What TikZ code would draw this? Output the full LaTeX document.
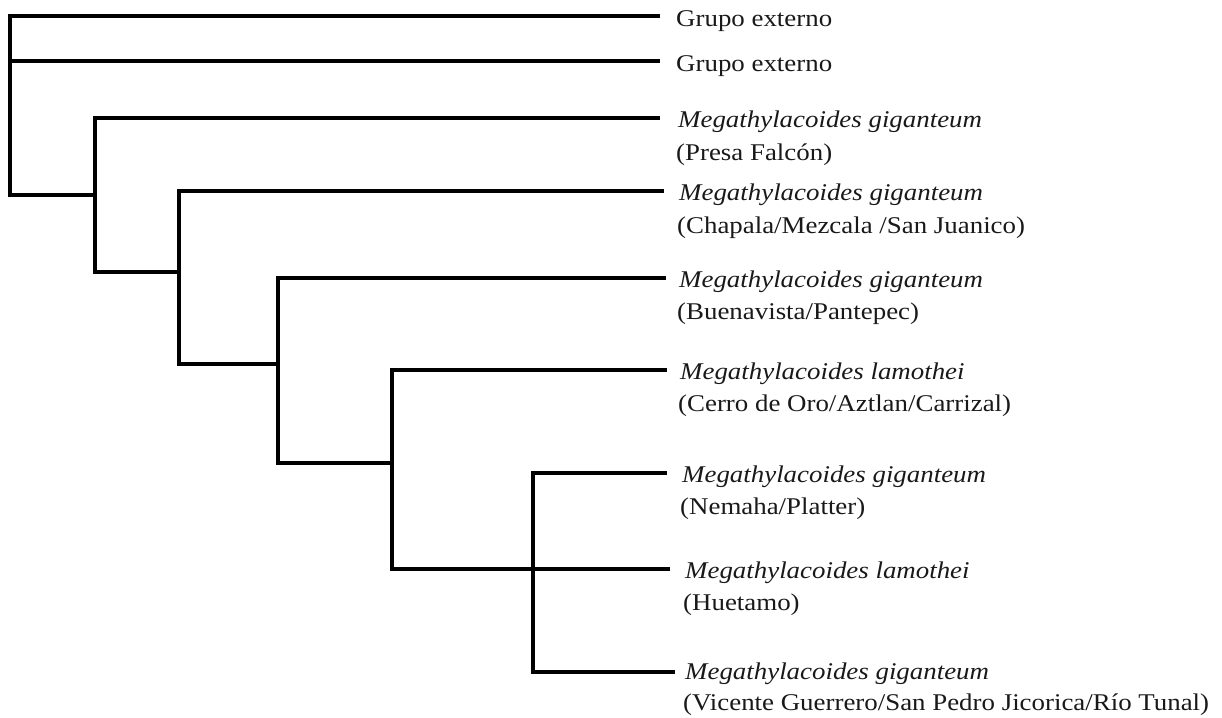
\documentclass[tikz,border=0pt]{standalone}
\usepackage{fontspec}
\setmainfont{Liberation Serif}[FakeStretch=1.12]
\begin{document}
\begin{tikzpicture}[x=1pt,y=-1pt,
  branch/.style={line width=3.6pt,line join=miter,line cap=rect},
  taxon/.style={anchor=base west,inner sep=0pt,text=black!90,font=\fontsize{24}{32}\selectfont}]
\useasboundingbox (0,0) rectangle (1222,717);
% leaf tips
\coordinate (e1) at (658,16);
\coordinate (e2) at (658,61);
\coordinate (e3) at (658,118);
\coordinate (e4) at (662,191);
\coordinate (e5) at (664,278);
\coordinate (e6) at (665,370);
\coordinate (e7) at (665,473);
\coordinate (e8) at (668,569);
\coordinate (e9) at (673,672);
% internal nodes (where each stem meets its parent)
\coordinate (root) at (10,195);
\coordinate (n2) at (95,195);
\coordinate (n3) at (179,272);
\coordinate (n4) at (278,364);
\coordinate (n5) at (392,463);
\coordinate (n6) at (533,569);
% branches
\draw[branch] (e1) -| (root) -- (n2);
\draw[branch] (root |- e2) -- (e2);
\draw[branch] (e3) -| (n2 |- n3) -- (n3);
\draw[branch] (e4) -| (n3 |- n4) -- (n4);
\draw[branch] (e5) -| (n4 |- n5) -- (n5);
\draw[branch] (e6) -| (n5 |- e8) -- (e8);
\draw[branch] (e7) -| (n6) |- (e9);
% labels
\node[taxon] (t1) at ([shift={(18,11)}]e1) {Grupo externo};
\node[taxon] (t2) at ([shift={(18,10)}]e2) {Grupo externo};
\node[taxon] (t3) at ([shift={(20,9)}]e3) {\itshape Megathylacoides giganteum};
\node[taxon] (s3) at ([shift={(-2,33)}]t3.base west) {(Presa Falcón)};
\node[taxon] (t4) at ([shift={(17,9)}]e4) {\itshape Megathylacoides giganteum};
\node[taxon] (s4) at ([shift={(-2,33)}]t4.base west) {(Chapala/Mezcala /San Juanico)};
\node[taxon] (t5) at ([shift={(15,9)}]e5) {\itshape Megathylacoides giganteum};
\node[taxon] (s5) at ([shift={(-2,32)}]t5.base west) {(Buenavista/Pantepec)};
\node[taxon] (t6) at ([shift={(15,9)}]e6) {\itshape Megathylacoides lamothei};
\node[taxon] (s6) at ([shift={(-2,32)}]t6.base west) {(Cerro de Oro/Aztlan/Carrizal)};
\node[taxon] (t7) at ([shift={(17,9)}]e7) {\itshape Megathylacoides giganteum};
\node[taxon] (s7) at ([shift={(-2,32)}]t7.base west) {(Nemaha/Platter)};
\node[taxon] (t8) at ([shift={(17,9)}]e8) {\itshape Megathylacoides lamothei};
\node[taxon] (s8) at ([shift={(-2,32)}]t8.base west) {(Huetamo)};
\node[taxon] (t9) at ([shift={(12,7)}]e9) {\itshape Megathylacoides giganteum};
\node[taxon] (s9) at ([shift={(-2,31)}]t9.base west) {(Vicente Guerrero/San Pedro Jicorica/Río Tunal)};
\end{tikzpicture}
\end{document}
